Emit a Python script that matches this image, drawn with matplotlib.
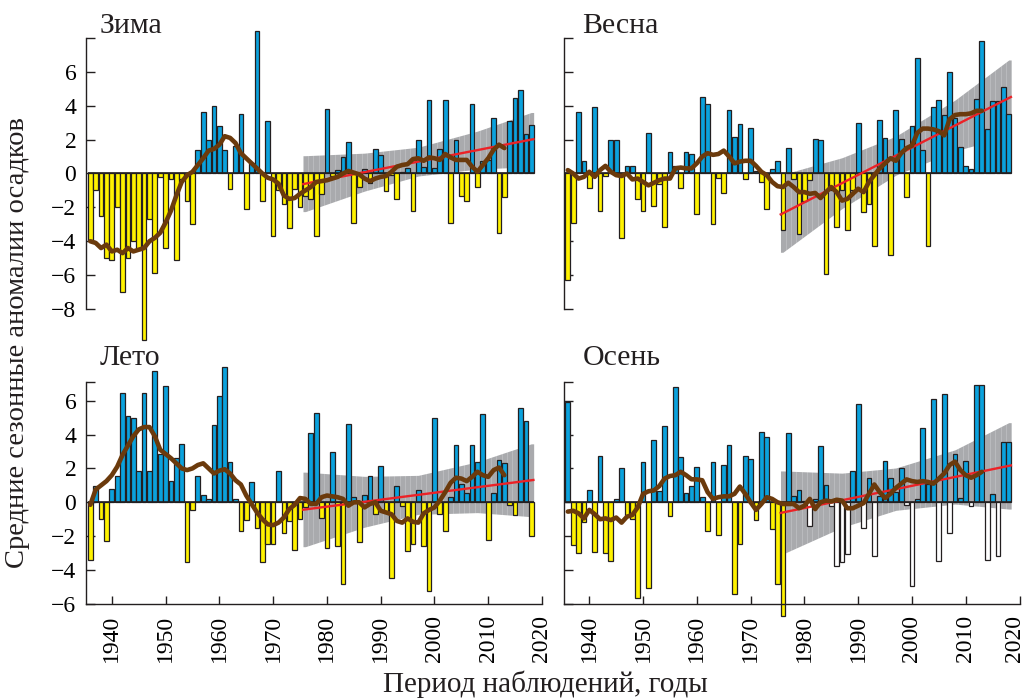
import numpy as np
import matplotlib
matplotlib.use('Agg')
import matplotlib.pyplot as plt
from matplotlib.transforms import ScaledTranslation

plt.rcParams['font.family'] = ['Liberation Serif', 'DejaVu Serif']

# годы наблюдений
years = np.arange(1936, 2019)
smooth_years = np.arange(1936, 2014)
trend_span = [1976, 2018]
band_years = [1976, 1987, 1997, 2008, 2018]

# аномалии осадков по сезонам, 1936-2018
winter = [
    -3.9, -1.0, -2.5, -5.0, -5.1, -2.0, -7.0, -5.0, -4.0, -4.5, -9.8,
    -2.7, -5.9, -0.2, -4.4, -0.35, -5.1, -0.3, -1.6, -3.0,
    1.4, 3.6, 2.0, 4.0, 2.8, 1.4, -0.9, 1.6, 3.5, -2.1, 0.6, 8.4, -1.6, 3.1, -3.7,
    -1.0, -1.8, -3.2, -0.9, -2.0, -1.3, -1.5, -3.7, -1.2, 3.8,
    -0.15, 0.2, 1.0, 1.86, -2.9, -0.8, 0.27, -0.55, 1.47, 1.08,
    -1.04, -0.1, -1.5, 0.1, 0.33, -2.2, 2.0, 0.4, 4.35, 0.3,
    1.45, 4.35, -2.9, 1.96, -1.33, -1.63, 4.1, -0.8, 0.76, 0.8,
    3.25, -3.5, -1.4, 3.08, 4.43, 4.9, 2.33, 2.84]

spring = [
    -6.3, -2.9, 3.6, 0.73, -0.84, 3.9, -2.2, -0.15, 1.96, 1.96,
    -3.8, 0.47, 0.47, -1.5, -2.2, 2.4, -1.9, -0.6, -3.16, 1.27,
    0.43, -0.84, 1.27, 1.16, -2.37, 4.5, 4.1, -2.96, -0.25, -1.14,
    3.75, 2.16, 2.9, -0.3, 2.7, 0.14, -0.5, -2.1, 0.25, 0.73,
    -3.33, 1.5, -0.3, -3.6, -1.6, -0.4, 2.04, 1.96, -5.94, -1.0,
    -3.16, -1.0, -3.35, -1.0, 3.0, -2.27, -1.8, -4.3, 3.14, 2.1,
    -4.8, 3.76, 2.04, -1.4, 2.82, 6.84, 1.41, -4.3, 3.92, 4.33,
    3.47, 6.0, 3.3, 1.57, 0.43, 0.24, 4.4, 7.82, 2.6, 4.25,
    4.25, 5.1, 3.5]

summer = [
    -3.43, 0.95, -0.97, -2.3, 0.77, 1.56, 6.47, 5.1, 5.0, 1.85,
    6.47, 1.85, 7.77, 2.84, 6.88, 1.26, 2.64, 3.45, -3.53, -0.43,
    1.54, 0.45, 0.22, 4.54, 6.3, 8.0, 2.39, 0.2, -1.7, -1.05,
    1.18, -1.54, -3.53, -2.45, -2.45, 1.87, -1.8, -1.12, -2.8, -0.97,
    -0.3, 4.1, 5.25, -0.93, -2.7, 2.98, -2.58, -4.8, 4.65, 0.34,
    -2.35, 0.45, 1.56, -0.67, 2.15, -0.6, -4.46, 0.95, -0.22, -2.88,
    -2.49, 0.71, -2.58, -5.25, 4.99, -0.67, -1.7, 0.32, 3.41, 1.1,
    0.55, 3.41, 2.39, 5.19, -2.2, 0.57, 2.49, 2.29, -0.18, -0.73,
    5.54, 4.79, -1.99]

autumn = [
    5.9, -2.54, -3.0, -1.16, 0.75, -2.94, 2.72, -3.0, -3.47, 0.22,
    2.03, -0.77, -0.97, -5.66, 2.39, -5.07, 3.65, 0.65, 4.5, -0.8,
    6.82, 2.7, 0.55, 0.95, 2.07, 0.34, -1.72, 2.39, -1.95, 2.23,
    3.37, -5.44, -2.45, 2.72, 2.58, -1.03, 4.16, 3.85, -1.56, -4.81,
    -6.73, 4.1, 0.36, 0.73, 0.1, -1.4, 0.2, 3.3, 1.04, -0.2,
    -3.77, -3.5, -3.04, 1.83, 5.78, -1.52, 1.46, -3.18, 0.4, 2.43,
    1.46, 0.6, 2.03, -0.14, -4.95, 0.2, 4.4, 1.1, 6.07, -3.47,
    6.39, -1.81, 2.86, 0.26, 2.43, -0.2, 6.92, 6.92, -3.43, 0.47,
    -3.18, 3.57, 3.57]

# сглаженные кривые, 1936-2013
winter_smooth = [
    -4.0, -4.1, -4.4, -4.2, -4.6, -4.5, -4.7, -4.4, -4.6, -4.5,
    -4.4, -4.0, -3.8, -3.5, -2.9, -2.2, -1.3, -0.5, -0.1, 0.1,
    0.5, 0.9, 1.35, 1.45, 1.7, 2.2, 2.1, 1.8, 1.2, 0.9,
    0.6, 0.3, 0.0, -0.25, -0.35, -0.6, -1.3, -1.5, -1.45, -1.2,
    -1.0, -0.8, -0.5, -0.45, -0.4, -0.3, -0.2, 0.0, 0.15, 0.05,
    -0.05, -0.3, -0.45, -0.3, -0.2, -0.15, 0.1, 0.4, 0.5, 0.55,
    0.85, 0.9, 0.75, 0.95, 0.9, 0.8, 1.15, 0.95, 0.8, 0.8,
    0.8, 0.4, 0.1, 0.5, 0.9, 1.4, 1.7, 1.5]

spring_smooth = [
    0.2, 0.0, -0.3, -0.2, 0.1, -0.2, 0.2, 0.45, 0.1, -0.1,
    -0.15, 0.0, -0.35, -0.3, -0.5, -0.7, -0.55, -0.4, -0.3, -0.3,
    0.3, 0.35, 0.3, 0.3, 0.6, 1.0, 1.2, 1.1, 1.15, 1.35,
    1.0, 0.6, 0.7, 0.75, 0.75, 0.45, 0.1, -0.1, -0.5, -0.75,
    -0.8, -0.55, -0.8, -1.1, -1.1, -1.2, -1.15, -1.45, -1.1, -0.8,
    -1.1, -1.6, -1.5, -1.2, -0.9, -1.1, -0.5, -0.1, 0.3, 0.6,
    0.9, 0.75, 1.2, 1.5, 1.65, 2.4, 2.65, 2.65, 2.6, 2.5,
    2.25, 3.2, 3.45, 3.5, 3.5, 3.55, 3.7, 3.7]

summer_smooth = [
    -0.15, 0.75, 1.0, 1.25, 1.6, 2.1, 2.8, 3.35, 3.9, 4.3,
    4.44, 4.44, 3.9, 3.1, 2.85, 2.6, 2.3, 2.0, 1.9, 2.0,
    2.2, 2.3, 2.0, 1.7, 1.87, 1.95, 1.7, 1.3, 1.05, 0.4,
    -0.1, -0.6, -1.0, -1.3, -1.35, -1.2, -0.9, -0.4, -0.15, 0.25,
    0.2, -0.1, -0.1, 0.3, 0.4, 0.35, 0.3, 0.2, -0.2, 0.0,
    0.0, -0.3, -0.1, 0.0, -0.5, -0.6, -0.7, -1.1, -1.2, -0.95,
    -1.15, -1.2, -0.65, -0.45, -0.3, 0.1, 0.6, 1.15, 1.45, 1.4,
    1.25, 1.5, 1.8, 1.6, 1.5, 1.9, 2.05, 1.6]

autumn_smooth = [
    -0.55, -0.5, -0.65, -0.95, -0.45, -0.7, -1.0, -0.95, -1.05, -0.9,
    -1.2, -0.85, -0.75, -0.3, 0.5, 0.65, 0.7, 0.95, 1.4, 1.55,
    1.6, 1.8, 1.6, 1.36, 1.35, 1.3, 0.6, 0.2, 0.3, 0.35,
    0.35, 0.5, 0.93, 0.5, 0.0, -0.45, -0.1, 0.3, 0.2, 0.0,
    -0.1, -0.1, -0.1, -0.35, -0.2, 0.2, -0.4, 0.0, 0.1, 0.05,
    0.15, 0.1, -0.35, -0.35, -0.2, -0.05, 0.5, 1.05, 0.6, 0.25,
    0.5, 0.85, 1.1, 1.35, 1.25, 1.2, 1.25, 1.2, 1.1, 1.4,
    1.7, 2.2, 2.4, 1.9, 1.6, 1.45, 1.6, 1.8]

# линейный тренд 1976-2018 (начало, конец) и полуширина доверительной полосы
winter_trend = [-0.6, 2.0]
spring_trend = [-2.35, 4.45]
summer_trend = [-0.42, 1.3]
autumn_trend = [-0.6, 2.15]
winter_band = [1.65, 1.12, 0.85, 1.12, 1.6]
spring_band = [2.3, 1.5, 1.15, 1.5, 2.25]
summer_band = [2.2, 1.5, 1.15, 1.5, 2.15]
autumn_band = [2.45, 1.6, 1.25, 1.6, 2.55]

BLUE = '#0ba2dd'
YELLOW = '#fff200'
EDGE = '#231f20'
BROWN = '#6b3a0c'
RED = '#ec2227'
GRAY = '#a9aaad'

W, H = 1027, 699
fig = plt.figure(figsize=(W / 100, H / 100), dpi=100)


def frac_x(px):
    return px / W


panels = [
    dict(title='Зима', vals=winter, smooth=winter_smooth, trend=winter_trend,
         band=winter_band, left=86, top=True, labels=True, hollow_from=None),
    dict(title='Весна', vals=spring, smooth=spring_smooth, trend=spring_trend,
         band=spring_band, left=563.5, top=True, labels=False, hollow_from=None),
    dict(title='Лето', vals=summer, smooth=summer_smooth, trend=summer_trend,
         band=summer_band, left=86, top=False, labels=True, hollow_from=None),
    dict(title='Осень', vals=autumn, smooth=autumn_smooth, trend=autumn_trend,
         band=autumn_band, left=563.5, top=False, labels=False, hollow_from=1977),
]

for p in panels:
    if p['top']:
        ylim = (-10.2, 8.9)
        rect = [frac_x(p['left']), (H - 346.3) / H, 456 / W, 323.6 / H]
    else:
        ylim = (-7.0, 9.0)
        rect = [frac_x(p['left']), (H - 620.9) / H, 456 / W, 271.1 / H]
    ax = fig.add_axes(rect)
    ax.set_xlim(1935.2, 2020.0)
    ax.set_ylim(*ylim)
    ax.patch.set_alpha(0)

    vals = np.array(p['vals'])
    # доверительная полоса тренда
    t = np.array(band_years, dtype=float)
    s, e = p['trend']
    mid = s + (t - trend_span[0]) / (trend_span[1] - trend_span[0]) * (e - s)
    hw = np.array(p['band'])
    lo, hi = mid - hw, mid + hw
    tx = np.concatenate([[t[0] - 0.45], t, [t[-1] + 0.45]])
    lo_x = np.concatenate([[lo[0]], lo, [lo[-1]]])
    hi_x = np.concatenate([[hi[0]], hi, [hi[-1]]])
    ax.fill_between(tx, lo_x, hi_x, color=GRAY, lw=0, zorder=1)
    ax.vlines(np.arange(trend_span[0] + 0.5, trend_span[1]), ylim[0], ylim[1],
              colors='white', lw=0.4, alpha=0.35, zorder=1.1)

    # столбики
    colors = []
    for y, v in zip(years, vals):
        if v >= 0:
            colors.append(BLUE)
        elif p['hollow_from'] is not None and y >= p['hollow_from']:
            colors.append('white')
        else:
            colors.append(YELLOW)
    ax.bar(years, vals, width=0.88, color=colors, edgecolor=EDGE,
           linewidth=0.9, zorder=2)
    ax.hlines(0, years[0] - 0.45, years[-1] + 0.45, colors=EDGE, lw=1.2, zorder=2.5)

    # тренд и сглаженная кривая
    ax.plot([trend_span[0] - 0.4, trend_span[1] + 0.4],
            [s - 0.4 * (e - s) / 42, e + 0.4 * (e - s) / 42],
            color=RED, lw=1.7, zorder=3)
    ax.plot(smooth_years, p['smooth'], color=BROWN, lw=3.3, zorder=4,
            solid_capstyle='round', solid_joinstyle='round')

    # оси
    ax.spines['top'].set_visible(False)
    ax.spines['right'].set_visible(False)
    for sp in ax.spines.values():
        sp.set_linewidth(1.0)
        sp.set_color(EDGE)
    if p['top']:
        ax.spines['bottom'].set_visible(False)
        ax.spines['left'].set_bounds(-8, 8)
        yt = [-8, -6, -4, -2, 0, 2, 4, 6, 8]
        yl = ['−8', '−6', '−4', '−2', '0', '2', '4', '6', '']
        ax.set_xticks([])
    else:
        ax.spines['left'].set_bounds(-6, 7.1)
        ax.spines['bottom'].set_position(('data', -6))
        ax.spines['bottom'].set_bounds(1935.2, 2020)
        yt = [-6, -4, -2, 0, 2, 4, 6, 7.1]
        yl = ['−6', '−4', '−2', '0', '2', '4', '6', '']
        ax.set_xticks(np.arange(1940, 2021, 10))
        ax.set_xticklabels([str(v) for v in range(1940, 2021, 10)], rotation=90)
        ax.tick_params(axis='x', direction='in', length=5.5, width=1.0,
                       labelsize=17, pad=8, color=EDGE)
        if not p['labels']:
            last = ax.get_xticklabels()[-1]
            last.set_transform(last.get_transform() +
                               ScaledTranslation(-5 / 100, 0, fig.dpi_scale_trans))
    ax.set_yticks(yt)
    if p['labels']:
        ax.set_yticklabels(yl)
    else:
        ax.set_yticklabels([])
    ax.tick_params(axis='y', direction='in', length=6.5, width=1.0,
                   labelsize=17, pad=7, color=EDGE)

    # подпись сезона
    ty = (H - 26) / H if p['top'] else (H - 358) / H
    fig.text(frac_x(p['left'] + 14 + (5 if not p['labels'] else 0)), ty, p['title'],
             fontsize=21.5, va='center', ha='left', color='#231f20')

fig.text(18 / W, (H - 342) / H, 'Средние сезонные аномалии осадков',
         rotation=90, fontsize=20.5, va='center', ha='center', color='#231f20')
fig.text(545 / W, (H - 692) / H, 'Период наблюдений, годы',
         fontsize=21, va='baseline', ha='center', color='#231f20')

fig.savefig('out.png', dpi=100)
